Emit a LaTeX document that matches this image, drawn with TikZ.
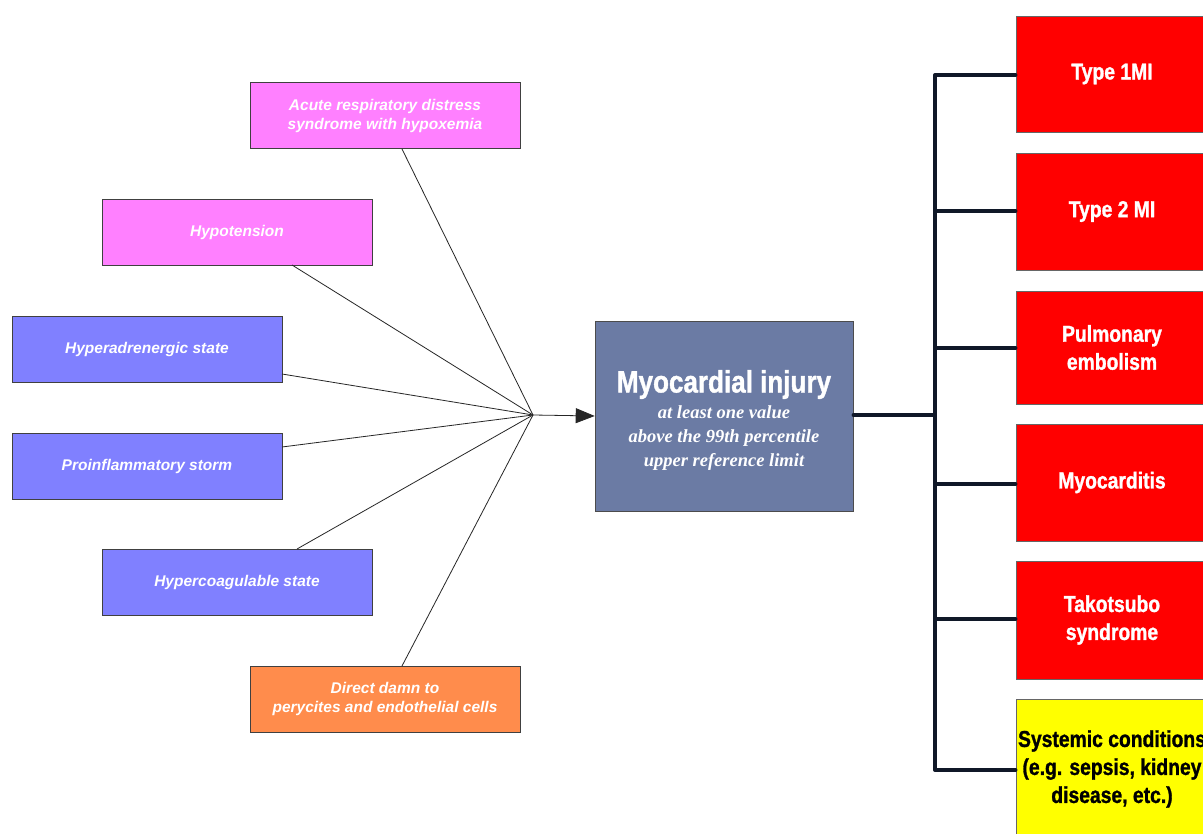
\documentclass[tikz,border=0pt]{standalone}
\usepackage{fontspec}
\setmainfont{Liberation Sans}
\newfontfamily\condfont{Liberation Sans}[FakeStretch=0.84,FakeBold=1.2]
\newfontfamily\serifbi{Liberation Serif}
\usetikzlibrary{arrows.meta}
\definecolor{magbox}{HTML}{FF80FF}
\definecolor{bluebox}{HTML}{8080FF}
\definecolor{orabox}{HTML}{FF8C4C}
\definecolor{centbox}{HTML}{6B7BA4}
\definecolor{redbox}{HTML}{FF0000}
\definecolor{yelbox}{HTML}{FFFF00}
\definecolor{bracketc}{HTML}{101828}
\newcommand\subl{\serifbi\fontsize{18.5}{24}\selectfont\bfseries\itshape}
\newcommand\titl{\condfont\fontsize{31}{36}\selectfont\bfseries\upshape}
\begin{document}
\begin{tikzpicture}[x=1pt,y=-1pt,
  cause/.style={draw=black!75,line width=0.6pt,minimum width=270pt,minimum height=66pt,
    text=white,font=\fontsize{15.5}{19}\selectfont\bfseries\itshape,align=center,inner sep=0pt},
  outbox/.style={draw=black!60,line width=0.5pt,minimum width=192pt,
    text=white,font=\condfont\fontsize{23}{28}\selectfont\bfseries,align=center,inner sep=0pt},
  thinline/.style={draw=black!85,line width=0.8pt},
  brk/.style={draw=bracketc,line width=3.4pt,line cap=round,line join=round}]
\useasboundingbox (0,0) rectangle (1203,834);
\clip (0,0) rectangle (1203,834);
\fill[white] (0,0) rectangle (1203,834);

% cause boxes
\node[cause,fill=magbox] (ards) at (385,115.5) {Acute respiratory distress\\syndrome with hypoxemia};
\node[cause,fill=magbox] (hypo) at (237,232) {Hypotension};
\node[cause,fill=bluebox] (hyper) at (147,349) {Hyperadrenergic state};
\node[cause,fill=bluebox] (proin) at (147,466) {Proinflammatory storm};
\node[cause,fill=bluebox] (coag) at (237,582.5) {Hypercoagulable state};
\node[cause,fill=orabox] (direct) at (385,699) {Direct damn to\\perycites and endothelial cells};

% central box
\node[draw=black!70,line width=0.6pt,fill=centbox,minimum width=258pt,minimum height=190pt,inner sep=0pt,align=center,text=white,font=\subl] (myo) at (724,416)
  {\rule{0pt}{31pt}{\titl Myocardial injury}\\[2pt]
   at least one value\\above the 99th percentile\\upper reference limit};

% convergence
\coordinate (conv) at (533,415);
\coordinate (a1) at (402,149);
\coordinate (a2) at (292,265);
\coordinate (a3) at (282,374);
\coordinate (a4) at (282,447);
\coordinate (a5) at (297,549);
\coordinate (a6) at (402,666);
\foreach \c in {a1,a2,a3,a4,a5,a6} \draw[thinline] (\c) -- (conv);
\draw[thinline,-{Triangle[length=19pt,width=15pt]}] (conv) -- (myo.west);

% outcome boxes
\node[outbox,fill=redbox,minimum height=116pt] (t1) at (1112,74) {Type 1MI};
\node[outbox,fill=redbox,minimum height=117pt] (t2) at (1112,211.5) {Type 2 MI};
\node[outbox,fill=redbox,minimum height=113pt] (pe) at (1112,347.5) {Pulmonary\\embolism};
\node[outbox,fill=redbox,minimum height=117pt] (myoc) at (1112,482.5) {Myocarditis};
\node[outbox,fill=redbox,minimum height=118pt] (tako) at (1112,620) {Takotsubo\\syndrome};
\node[outbox,fill=yelbox,minimum height=140pt,text=black] (sys) at (1112,769) {Systemic conditions\\(e.g. sepsis, kidney\\disease, etc.)};

% bracket
\coordinate (bj) at (935,415);
\coordinate (btop) at (935,75);
\coordinate (bbot) at (935,770);
\draw[brk] (myo.east |- bj) -- (bj);
\draw[brk] (t1.west |- btop) -- (btop) -- (bbot) -- (sys.west |- bbot);
\draw[brk] (935,211) -- (t2.west |- 0,211);
\draw[brk] (935,348) -- (pe.west |- 0,348);
\draw[brk] (935,484) -- (myoc.west |- 0,484);
\draw[brk] (935,619) -- (tako.west |- 0,619);
\end{tikzpicture}
\end{document}
